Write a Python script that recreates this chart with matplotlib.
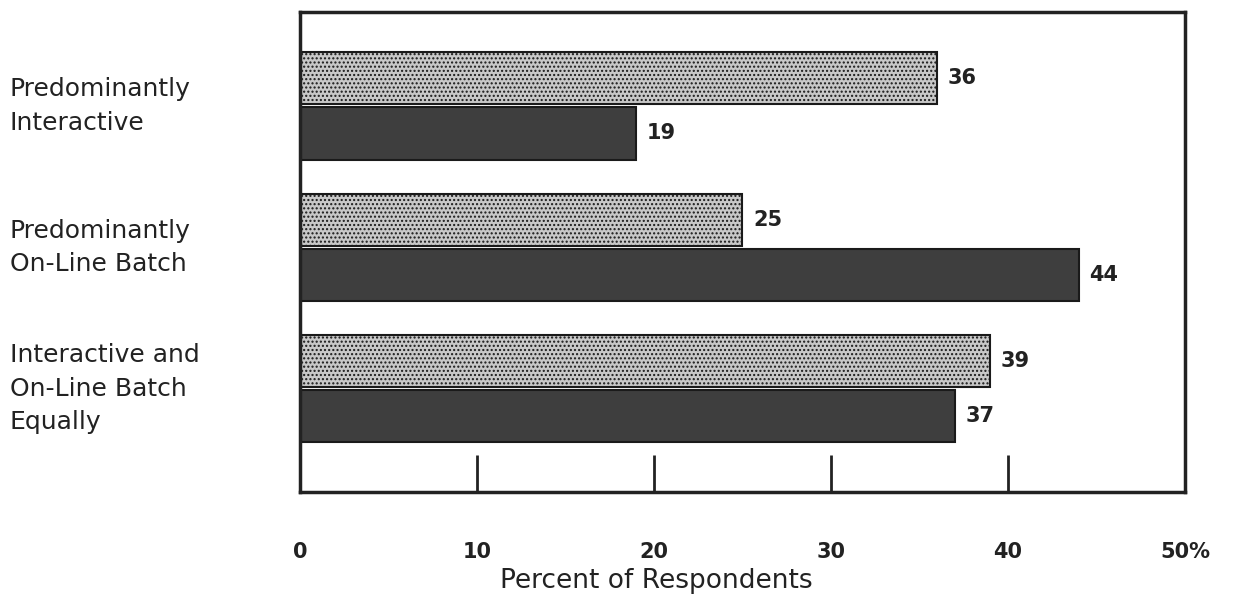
import matplotlib.pyplot as plt
import matplotlib.transforms as mtransforms
import numpy as np

# Data
categories = ['Predominantly\nInteractive',
              'Predominantly\nOn-Line Batch',
              'Interactive and\nOn-Line Batch\nEqually']
light_vals = [36, 25, 39]
dark_vals = [19, 44, 37]
xticks = [0, 10, 20, 30, 40, 50]
xtick_labels = ['0', '10', '20', '30', '40', '50%']

fig = plt.figure(figsize=(12.36, 5.94), dpi=100)
ax = fig.add_axes([0.2427, 0.1717, 0.7160, 0.8083])

y = np.arange(len(categories))
h = 0.37
off = 0.195

ax.barh(y - off, light_vals, height=h, color='#c8c8c8', edgecolor='#1a1a1a',
        hatch='....', linewidth=1.5)
ax.barh(y + off, dark_vals, height=h, color='#3e3e3e', edgecolor='#1a1a1a',
        linewidth=1.5)

for yi, v in zip(y, light_vals):
    ax.text(v + 0.6, yi - off, str(v), va='center', ha='left',
            fontsize=15, fontweight='bold', color='#222222')
for yi, v in zip(y, dark_vals):
    ax.text(v + 0.6, yi + off, str(v), va='center', ha='left',
            fontsize=15, fontweight='bold', color='#222222')

ax.set_xlim(0, 50)
ax.set_ylim(2.73, -0.664)

ax.set_xticks(xticks)
ax.set_xticklabels(xtick_labels, fontsize=15, fontweight='bold', color='#222222')
ax.tick_params(axis='x', direction='in', length=27, width=2, pad=36,
               color='#222222')
ax.set_yticks([])
ax.set_xlabel('Percent of Respondents', fontsize=19, color='#222222')
ax.xaxis.set_label_coords(0.403, -0.158)

for s in ax.spines.values():
    s.set_linewidth(2.5)
    s.set_color('#222222')

# category labels at the left
trans = mtransforms.blended_transform_factory(fig.transFigure, ax.transData)
for yi, c in zip(y, categories):
    ax.text(0.008, yi, c, transform=trans, va='center', ha='left', fontsize=18,
            linespacing=1.5, color='#222222', clip_on=False)

fig.savefig('out.png', dpi=100)
